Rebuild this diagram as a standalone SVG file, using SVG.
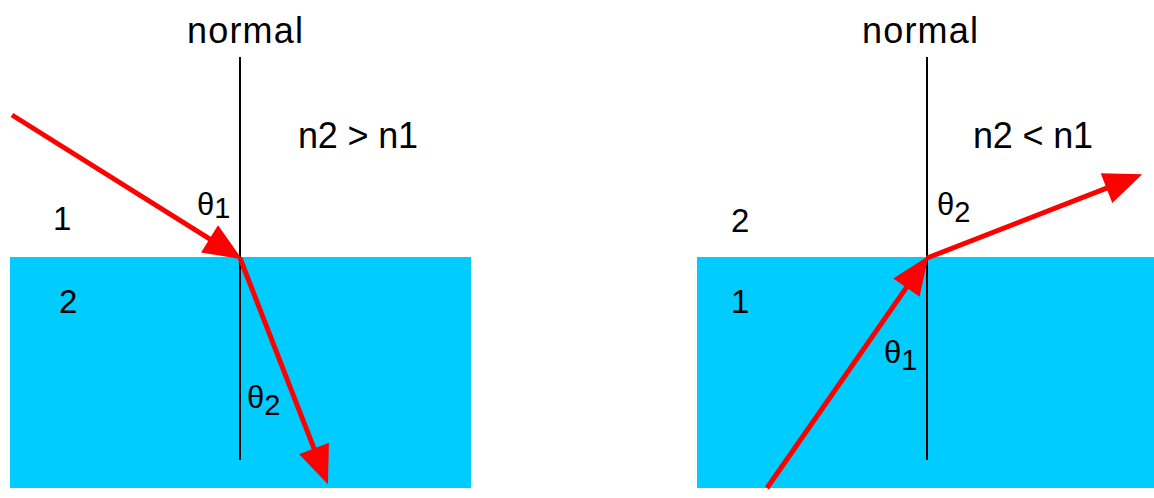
<svg xmlns="http://www.w3.org/2000/svg" width="1154" height="498" viewBox="0 0 1154 498">
<style>
.bg{fill:#ffffff}
.medium{fill:#00ccff}
.normal{stroke:#000000;stroke-width:2;fill:none}
.ray{stroke:#ff0000;stroke-width:5;fill:none;marker-end:url(#head)}
.t{font-family:"Liberation Sans",Arial,sans-serif;font-size:36px;fill:#000000}
.d{font-family:"Liberation Sans",Arial,sans-serif;font-size:33px;fill:#000000}
.th{font-family:"Liberation Sans",Arial,sans-serif;font-size:31px;fill:#000000}
</style>
<defs>
<marker id="head" markerUnits="userSpaceOnUse" markerWidth="40" markerHeight="32" viewBox="0 0 36 30" refX="15" refY="15" orient="auto">
<path d="M0,0 L36,15 L0,30 z" fill="#ff0000"/>
</marker>
</defs>
<rect class="bg" x="0" y="0" width="1154" height="498"/>
<g id="left-panel">
<g id="left-medium2"><rect class="medium" x="10" y="257" width="461" height="231"/></g>
<g id="left-normal"><line class="normal" x1="240" y1="57" x2="240" y2="460"/>
<text class="t" x="187" y="43" textLength="116" lengthAdjust="spacing">normal</text></g>
<g id="left-labels">
<text class="t" x="298" y="148" textLength="120" lengthAdjust="spacing">n2 &gt; n1</text>
<text class="d" x="53" y="230">1</text>
<text class="d" x="59" y="313">2</text>
<text class="th" x="197" y="215">θ<tspan dy="3" font-size="29">1</tspan></text>
<text class="th" x="247" y="408">θ<tspan dy="7" font-size="29">2</tspan></text>
</g>
</g>
<g id="right-panel">
<g id="right-medium1"><rect class="medium" x="697" y="257" width="457" height="231"/></g>
<g id="right-normal"><line class="normal" x1="927" y1="57" x2="927" y2="460"/>
<text class="t" x="862" y="43" textLength="116" lengthAdjust="spacing">normal</text></g>
<g id="right-labels">
<text class="t" x="973" y="148" textLength="120" lengthAdjust="spacing">n2 &lt; n1</text>
<text class="d" x="731" y="232">2</text>
<text class="d" x="731" y="313">1</text>
<text class="th" x="937" y="215">θ<tspan dy="7" font-size="29">2</tspan></text>
<text class="th" x="884" y="363">θ<tspan dy="7" font-size="29">1</tspan></text>
</g>
</g>
<g id="connectors">
<line class="ray" x1="12" y1="115" x2="223.1" y2="247.4"/>
<line class="ray" x1="240" y1="258" x2="319.8" y2="463.4"/>
<line class="ray" x1="767" y1="488" x2="915.6" y2="274.4"/>
<line class="ray" x1="927" y1="258" x2="1121.4" y2="182.3"/>
</g>
</svg>
